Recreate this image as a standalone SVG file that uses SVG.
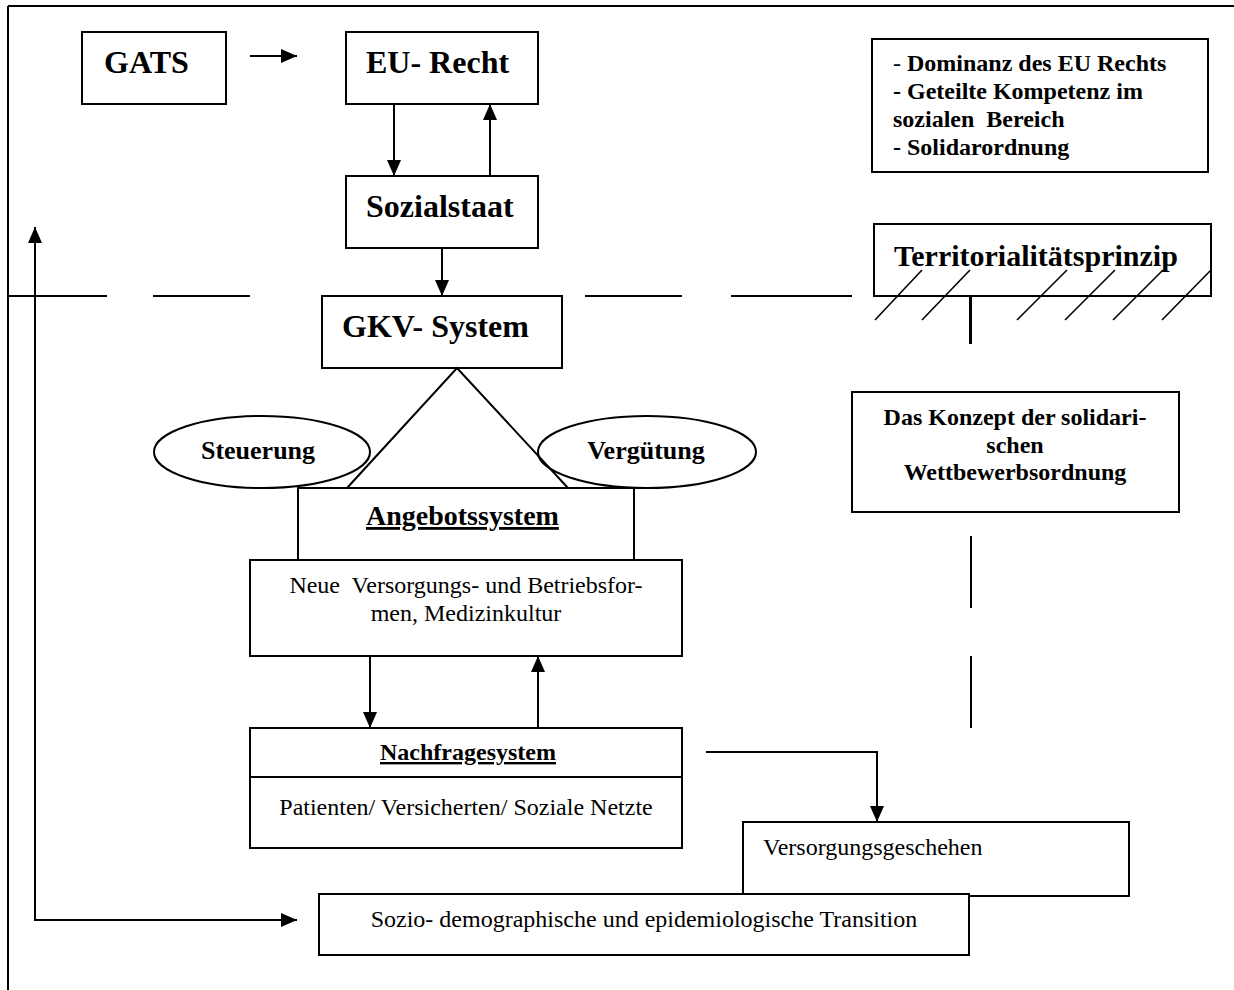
<svg xmlns="http://www.w3.org/2000/svg" width="1234" height="990" viewBox="0 0 1234 990">
  <style>
    .box { fill: #fff; stroke: #000; stroke-width: 2; }
    .ell { fill: none; stroke: #000; stroke-width: 2; }
    .ln { fill: none; stroke: #000; stroke-width: 2; }
    .hl { fill: none; stroke: #000; stroke-width: 1.6; }
    .t { font-family: "Liberation Serif", "Times New Roman", serif; fill: #000; }
    .b32 { font-size: 32px; font-weight: bold; }
    .b30 { font-size: 30px; font-weight: bold; }
    .b28 { font-size: 28px; font-weight: bold; }
    .b26 { font-size: 26px; font-weight: bold; }
    .b24 { font-size: 24px; font-weight: bold; }
    .r24 { font-size: 24px; font-weight: normal; }
    .mid { text-anchor: middle; }
    .ul { text-decoration: underline; }
  </style>
  <defs>
    <marker id="arr" markerUnits="userSpaceOnUse" markerWidth="16" markerHeight="14" refX="16" refY="7" orient="auto-start-reverse">
      <path d="M0,0 L16,7 L0,14 Z" fill="#000"/>
    </marker>
  </defs>

  <!-- page frame: top and left rules only -->
  <g id="frame">
    <line class="ln" x1="8" y1="6" x2="1234" y2="6"/>
    <line class="ln" x1="8" y1="6" x2="8" y2="990"/>
  </g>

  <!-- boundary lines -->
  <g id="boundaries">
    <line class="ln" x1="8" y1="296" x2="107" y2="296"/>
    <line class="ln" x1="153" y1="296" x2="250" y2="296"/>
    <line class="ln" x1="585" y1="296" x2="682" y2="296"/>
    <line class="ln" x1="731" y1="296" x2="852" y2="296"/>
    <line class="ln" x1="971" y1="296" x2="971" y2="344"/>
    <line class="ln" x1="971" y1="536" x2="971" y2="608"/>
    <line class="ln" x1="971" y1="656" x2="971" y2="728"/>
  </g>

  <g id="gats">
    <rect class="box" x="82" y="32" width="144" height="72"/>
    <text class="t b32" x="104" y="73">GATS</text>
  </g>

  <g id="eu-recht">
    <rect class="box" x="346" y="32" width="192" height="72"/>
    <text class="t b32" x="366" y="73">EU- Recht</text>
  </g>

  <g id="sozialstaat">
    <rect class="box" x="346" y="176" width="192" height="72"/>
    <text class="t b32" x="366" y="217">Sozialstaat</text>
  </g>

  <g id="merkmale">
    <rect class="box" x="872" y="39" width="336" height="133"/>
    <text class="t b24" x="893" y="71" xml:space="preserve"><tspan font-weight="normal">-</tspan> Dominanz des EU Rechts</text>
    <text class="t b24" x="893" y="99">- Geteilte Kompetenz im</text>
    <text class="t b24" x="893" y="127" xml:space="preserve">sozialen  Bereich</text>
    <text class="t b24" x="893" y="155">- Solidarordnung</text>
  </g>

  <g id="territorialitaet">
    <rect class="box" x="874" y="224" width="337" height="72"/>
    <text class="t b30" x="894" y="266">Territorialitätsprinzip</text>
    <g id="hatching">
      <line class="hl" x1="875" y1="320" x2="922" y2="270"/>
      <line class="hl" x1="922" y1="320" x2="970" y2="270"/>
      <line class="hl" x1="1017" y1="320" x2="1067" y2="270"/>
      <line class="hl" x1="1065" y1="320" x2="1115" y2="270"/>
      <line class="hl" x1="1113" y1="320" x2="1163" y2="270"/>
      <line class="hl" x1="1162" y1="320" x2="1211" y2="270"/>
    </g>
  </g>

  <g id="gkv-system">
    <rect class="box" x="322" y="296" width="240" height="72"/>
    <text class="t b32" x="342" y="337">GKV- System</text>
  </g>

  <g id="triangle">
    <polyline class="ln" points="347,488 457,368 568,488"/>
  </g>

  <g id="steuerung">
    <ellipse class="ell" cx="262" cy="452" rx="108" ry="36"/>
    <text class="t b26 mid" x="258" y="459">Steuerung</text>
  </g>

  <g id="verguetung">
    <ellipse class="ell" cx="647" cy="452" rx="109" ry="36"/>
    <text class="t b26 mid" x="646" y="459">Vergütung</text>
  </g>

  <g id="konzept">
    <rect class="box" x="852" y="392" width="327" height="120"/>
    <text class="t b24 mid" x="1015" y="425">Das Konzept der solidari-</text>
    <text class="t b24 mid" x="1015" y="453">schen</text>
    <text class="t b24 mid" x="1015" y="480">Wettbewerbsordnung</text>
  </g>

  <g id="angebotssystem">
    <rect class="box" x="298" y="488" width="336" height="72"/>
    <text class="t b28 ul" x="366" y="525">Angebotssystem</text>
  </g>

  <g id="versorgungsformen">
    <rect class="box" x="250" y="560" width="432" height="96"/>
    <text class="t r24 mid" x="466" y="593" xml:space="preserve">Neue  Versorgungs- und Betriebsfor-</text>
    <text class="t r24 mid" x="466" y="621">men, Medizinkultur</text>
  </g>

  <g id="nachfragesystem">
    <rect class="box" x="250" y="728" width="432" height="120"/>
    <line class="ln" x1="250" y1="777" x2="682" y2="777"/>
    <text class="t b24 ul" x="380" y="760">Nachfragesystem</text>
    <text class="t r24 mid" x="466" y="815">Patienten/ Versicherten/ Soziale Netzte</text>
  </g>

  <g id="versorgungsgeschehen">
    <rect class="box" x="743" y="822" width="386" height="74"/>
    <text class="t r24" x="763" y="855">Versorgungsgeschehen</text>
  </g>

  <g id="transition">
    <rect class="box" x="319" y="894" width="650" height="61"/>
    <text class="t r24 mid" x="644" y="927">Sozio- demographische und epidemiologische Transition</text>
  </g>

  <!-- connectors -->
  <g id="connectors">
    <line class="ln" x1="250" y1="56" x2="297" y2="56" marker-end="url(#arr)"/>
    <line class="ln" x1="394" y1="104" x2="394" y2="176" marker-end="url(#arr)"/>
    <line class="ln" x1="490" y1="176" x2="490" y2="104" marker-end="url(#arr)"/>
    <line class="ln" x1="442" y1="248" x2="442" y2="296" marker-end="url(#arr)"/>
    <line class="ln" x1="970" y1="296" x2="970" y2="344"/>
    <line class="ln" x1="370" y1="656" x2="370" y2="728" marker-end="url(#arr)"/>
    <line class="ln" x1="538" y1="728" x2="538" y2="656" marker-end="url(#arr)"/>
    <polyline class="ln" points="706,752 877,752 877,822" marker-end="url(#arr)"/>
    <polyline class="ln" points="35,227 35,920 297,920" marker-start="url(#arr)" marker-end="url(#arr)"/>
  </g>
</svg>
